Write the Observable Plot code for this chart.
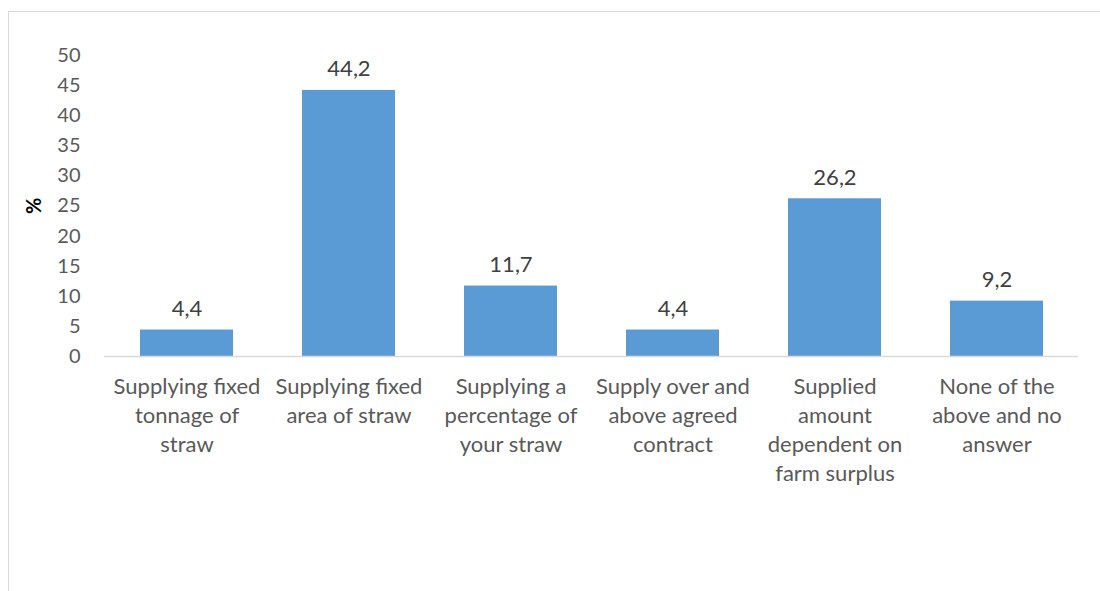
<!DOCTYPE html>
<html>
<head>
<meta charset="utf-8">
<script src="https://cdn.jsdelivr.net/npm/d3@7"></script>
<script src="https://cdn.jsdelivr.net/npm/@observablehq/plot@0.6"></script>
<style>
  html, body { margin: 0; padding: 0; background: #fff; overflow: hidden; }
  #frame { position: absolute; left: 8px; top: 11px; width: 1200px; height: 700px; border-left: 1px solid #d9d9d9; border-top: 1px solid #d9d9d9; }
  #chart { position: absolute; left: 0; top: 0; }
</style>
</head>
<body>
<div id="frame"></div>
<div id="chart"></div>
<script>
const categories = [
  "Supplying fixed\ntonnage of\nstraw",
  "Supplying fixed\narea of straw",
  "Supplying a\npercentage of\nyour straw",
  "Supply over and\nabove agreed\ncontract",
  "Supplied\namount\ndependent on\nfarm surplus",
  "None of the\nabove and no\nanswer"
];
const values = [4.4, 44.2, 11.7, 4.4, 26.2, 9.2];
const yTicks = [0, 5, 10, 15, 20, 25, 30, 35, 40, 45, 50];

const data = categories.map((c, i) => ({category: c, value: values[i]}));
const fmt = v => d3.format(".1f")(v).replace(".", ",");
const font = "Lato, 'Open Sans', sans-serif";

const chart = Plot.plot({
  width: 1100,
  height: 591,
  marginTop: 55,
  marginBottom: 235,
  marginLeft: 104,
  marginRight: 22,
  style: { fontFamily: font, fontSize: "20px", color: "#595959", background: "transparent" },
  x: { domain: categories, paddingInner: 0.427, paddingOuter: 0.2135, label: null },
  y: { domain: [0, 50], label: null },
  marks: [
    Plot.axisY({ ticks: yTicks, tickSize: 0, tickPadding: 24, fontSize: 20, fill: "#595959", label: null }),
    Plot.axisX({ tickSize: 0, tickPadding: 17, fontSize: 22, fill: "#595959", lineHeight: 1.32, textAnchor: "middle", label: null, lineAnchor: "top" }),
    Plot.barY(data, { x: "category", y: "value", fill: "#5B9BD5" }),
    Plot.ruleY([0], { stroke: "#d9d9d9", strokeWidth: 1.5 }),
    Plot.text(data, { x: "category", y: "value", text: d => fmt(d.value), dy: -14, fontSize: 22, fill: "#404040", lineAnchor: "bottom" }),
    Plot.text(["%"], { frameAnchor: "left", dx: -70, dy: 8, text: d => d, rotate: -90, fontWeight: "bold", fontSize: 20, fill: "#000" })
  ]
});
document.getElementById("chart").appendChild(chart);
</script>
</body>
</html>
